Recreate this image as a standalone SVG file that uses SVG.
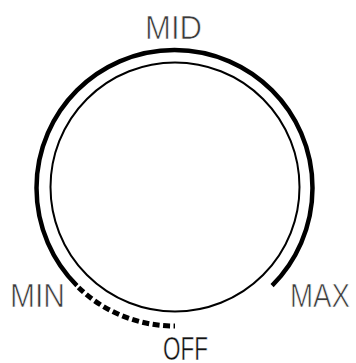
<svg xmlns="http://www.w3.org/2000/svg" width="356" height="363" viewBox="0 0 356 363">
<style>
.lbl{font-family:"Liberation Sans",Arial,sans-serif;font-size:33px;fill:#3a3a3a;stroke:#fff;stroke-width:0.7}
.off{font-family:"Liberation Sans",Arial,sans-serif;font-size:33px;fill:#111;stroke:#fff;stroke-width:0.5}
.arc{fill:none;stroke:#000;stroke-linecap:butt}
</style>
<rect width="356" height="363" fill="#fff"/>
<g id="dial">
<circle cx="175" cy="187" r="124.5" class="arc" stroke-width="2"/>
</g>
<g id="connectors">
<path id="range" class="arc" stroke-width="4.5" d="M 76.9 285.6 A 138 138 0 1 1 272.1 285.6"/>
<path id="offrange" class="arc" stroke-width="5" stroke-dasharray="7 3.5" d="M 78.5 287.5 A 138 138 0 0 0 175 326"/>
</g>
<g id="label-mid"><text class="lbl" x="145" y="39" textLength="57" lengthAdjust="spacingAndGlyphs">MID</text></g>
<g id="label-min"><text class="lbl" x="10" y="307" textLength="55" lengthAdjust="spacingAndGlyphs">MIN</text></g>
<g id="label-max"><text class="lbl" x="290" y="307" textLength="60" lengthAdjust="spacingAndGlyphs">MAX</text></g>
<g id="label-off"><text class="off" x="163" y="360" textLength="45" lengthAdjust="spacingAndGlyphs">OFF</text></g>
</svg>
